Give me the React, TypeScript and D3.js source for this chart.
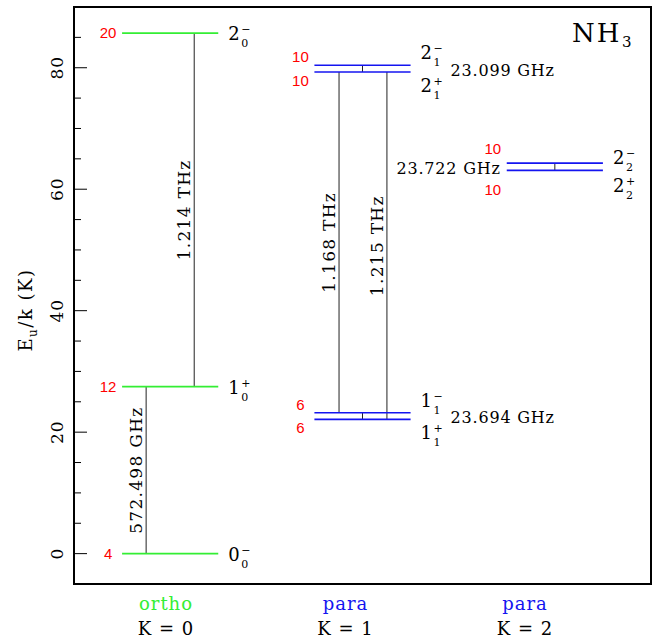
import React from 'react';
import * as d3 from 'd3';

// NH3 rotation-inversion levels
const columnNames = ['ortho', 'para', 'para'];
const columnK = ['K = 0', 'K = 1', 'K = 2'];

const levelCol = [0, 0, 0, 1, 1, 1, 1, 2, 2];
const levelJ = ['0', '1', '2', '1', '1', '2', '2', '2', '2'];
const levelK = ['0', '0', '0', '1', '1', '1', '1', '2', '2'];
const levelParity = ['−', '+', '−', '+', '−', '+', '−', '+', '−'];
const levelE = [0, 27.5, 85.7, 22.1, 23.2, 79.3, 80.4, 63.1, 64.3];
const levelG = [4, 12, 20, 6, 6, 10, 10, 10, 10];

// rotational transitions (vertical lines with rotated labels)
const rotFrom = [0, 1, 4, 3];
const rotTo = [1, 2, 5, 5];
const rotOffset = [-0.125, 0.125, -0.122, 0.127];
const rotLabel = ['572.498 GHz', '1.214 THz', '1.168 THz', '1.215 THz'];

// inversion doublets
const invLow = [3, 5, 7];
const invHigh = [4, 6, 8];
const invLabel = ['23.694 GHz', '23.099 GHz', '23.722 GHz'];

const yMajor = [0, 20, 40, 60, 80];

const W = 660;
const H = 638;
const left = 74;
const right = 651;
const top = 7;
const bottom = 584;

const colColor = ['#33ee33', '#1414f0', '#1414f0'];
const serif = '"DejaVu Serif", serif';
const sans = '"Liberation Sans", Arial, sans-serif';

export default function App() {
  const x = d3.scaleLinear().domain([-0.5, 2.5]).range([left, right]);
  const y = d3.scaleLinear().domain([-5, 90]).range([bottom, top]);
  const labelX = d3.scaleLinear().domain([0, 2]).range([166, 525]);
  const half = 0.25;

  const minor = d3.range(0, 90, 5).filter(t => !yMajor.includes(t));

  const isPaired = (i: number) => levelCol[i] > 0;
  const isUpper = (i: number) => levelParity[i] !== '+';
  // baseline offsets of state label / degeneracy label relative to the level
  const stateDy = (i: number) => {
    if (!isPaired(i)) return 7;
    if (levelCol[i] === 2) return isUpper(i) ? 1 : 22;
    return isUpper(i) ? -6 : 20;
  };
  const countDy = (i: number) => {
    if (!isPaired(i)) return 5;
    if (levelCol[i] === 2) return isUpper(i) ? -9 : 25;
    return isUpper(i) ? -3 : 14;
  };

  return (
    <svg width={W} height={H} style={{ position: 'absolute', left: 0, top: 0, background: '#fff' }}>
      {/* frame */}
      <rect x={left} y={top} width={right - left} height={bottom - top} fill="none" stroke="#000" strokeWidth={2} />

      {/* y axis ticks, inside the frame */}
      {yMajor.map(t => (
        <g key={'M' + t}>
          <line x1={left} x2={left + 13} y1={y(t)} y2={y(t)} stroke="#000" strokeWidth={1} />
          <text transform={`translate(63,${y(t)}) rotate(-90)`} textAnchor="middle"
            fontFamily={serif} fontSize={17} letterSpacing={1}>{t}</text>
        </g>
      ))}
      {minor.map(t => (
        <line key={'m' + t} x1={left} x2={left + 7} y1={y(t)} y2={y(t)} stroke="#000" strokeWidth={1} />
      ))}
      <text transform="translate(32,310) rotate(-90)" textAnchor="middle" fontFamily={serif} fontSize={18}
        letterSpacing={1.5}>
        E<tspan fontSize={12} dy={5}>u</tspan><tspan dy={-5}>/k (K)</tspan>
      </text>

      {/* rotational transitions */}
      {rotFrom.map((f, i) => {
        const t = rotTo[i];
        const xl = x(levelCol[f] + rotOffset[i]);
        const ym = (y(levelE[f]) + y(levelE[t])) / 2;
        return (
          <g key={'r' + i}>
            <line x1={xl} x2={xl} y1={y(levelE[f])} y2={y(levelE[t])} stroke="#222" strokeWidth={1} />
            <text transform={`translate(${xl - 4},${ym}) rotate(-90)`} textAnchor="middle"
              fontFamily={serif} fontSize={17} letterSpacing={1.3}>{rotLabel[i]}</text>
          </g>
        );
      })}

      {/* inversion transitions */}
      {invLow.map((lo, i) => {
        const hi = invHigh[i];
        const c = levelCol[lo];
        const xl = x(c);
        const ym = (y(levelE[lo]) + y(levelE[hi])) / 2;
        const onLeft = c === 2;
        return (
          <g key={'i' + i}>
            <line x1={xl} x2={xl} y1={y(levelE[lo])} y2={y(levelE[hi])} stroke="#222" strokeWidth={1} />
            <text x={onLeft ? x(c - half) - 6 : x(c + half) + 40} y={ym + 7}
              textAnchor={onLeft ? 'end' : 'start'} fontFamily={serif} fontSize={16} letterSpacing={0.8}>
              {invLabel[i]}
            </text>
          </g>
        );
      })}

      {/* energy levels */}
      {levelE.map((e, i) => {
        const c = levelCol[i];
        const yl = y(e);
        const xs = x(c + half) + 10;
        return (
          <g key={'l' + i}>
            <line x1={x(c - half)} x2={x(c + half)} y1={yl} y2={yl} stroke={colColor[c]} strokeWidth={1.6} />
            <text x={x(c - half) - 14} y={yl + countDy(i)} textAnchor="middle"
              fontFamily={sans} fontSize={15} fill="#ff0000">{levelG[i]}</text>
            <text x={xs} y={yl + stateDy(i)} fontFamily={serif} fontSize={18}>{levelJ[i]}</text>
            <text x={xs + 13} y={yl + stateDy(i) + 7} fontFamily={serif} fontSize={11}>{levelK[i]}</text>
            <text x={xs + 13} y={yl + stateDy(i) - 7} fontFamily={serif} fontSize={11}>{levelParity[i]}</text>
          </g>
        );
      })}

      {/* molecule */}
      <text x={572} y={42} fontFamily={serif} fontSize={26} letterSpacing={2}>NH</text>
      <text x={622} y={47} fontFamily={serif} fontSize={15}>3</text>

      {/* column labels */}
      {columnNames.map((n, i) => (
        <g key={'c' + i}>
          <text x={labelX(i)} y={610} textAnchor="middle" fontFamily={serif} fontSize={18}
            letterSpacing={1} fill={colColor[i]}>{n}</text>
          <text x={labelX(i)} y={635} textAnchor="middle" fontFamily={serif} fontSize={18}
            letterSpacing={1}>{columnK[i]}</text>
        </g>
      ))}
    </svg>
  );
}
